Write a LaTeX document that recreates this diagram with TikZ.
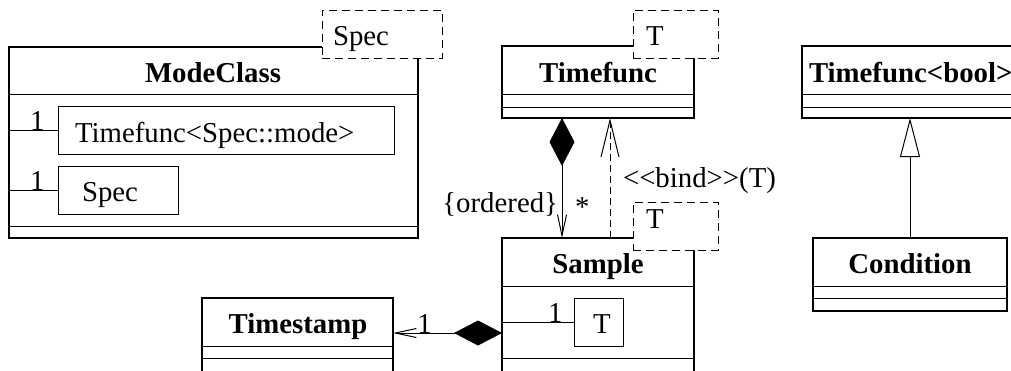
\documentclass[tikz,border=0pt]{standalone}
\usepackage{fontspec}
\setmainfont{Liberation Serif}
\usetikzlibrary{arrows.meta,fit,positioning}

% << and >> would become guillemets under the TeX mapping
\newcommand{\stereo}[1]{<\kern0pt<#1>\kern0pt>}

\begin{document}
\begin{tikzpicture}[x=0.5pt,y=-0.5pt,
  font=\fontsize{14.4}{17}\selectfont,
  every node/.append style={inner sep=0pt,outer sep=0pt},
  classbox/.style={draw,line width=1pt,fit={#1}},
  attrbox/.style={draw,line width=0.5pt,fit={#1}},
  tplbox/.style={draw,dash pattern=on 4pt off 2.5pt,line width=0.5pt,fill=white,fit={#1}},
  divider/.style={line width=0.5pt},
  classname/.style={anchor=base,font=\fontsize{14.4}{17}\selectfont\bfseries},
  mult/.style={anchor=south},
  link/.style={line width=0.5pt},
  composite/.style={link,arrows={Diamond[length=24pt,width=12.5pt]-Straight Barb[length=10.5pt,width=4.5pt]}},
  bind/.style={link,dash pattern=on 3.5pt off 2pt,arrows={-Straight Barb[length=18.5pt,width=9pt]}},
  inherit/.style={link,arrows={-Triangle[open,length=19.5pt,width=10pt]}}]
\useasboundingbox (0,0) rectangle (1011,370);
\clip (0,0) rectangle (1011,370);

% ModeClass
\node[classbox={(9,47) (418,238)}] (modeclass) {};
\draw[divider] (modeclass.west |- 0,94) -- (modeclass.east |- 0,94);
\draw[divider] (modeclass.west |- 0,226) -- (modeclass.east |- 0,226);
\node[classname] (modeclass-name) at (213,82) {ModeClass};
\node[tplbox={(322,10) (442,58)}] (modeclass-tpl) {};
\node[anchor=base west] (modeclass-par) at (333,45) {Spec};
\node[attrbox={(58,106) (394,154)}] (modeclass-mode) {};
\node[anchor=base west] (modeclass-modetxt) at (75,142) {Timefunc<Spec::mode>};
\node[attrbox={(58,166) (178,214)}] (modeclass-spec) {};
\node[anchor=base west] (modeclass-spectxt) at (82,201) {Spec};

% Timefunc
\node[classbox={(502,46) (694,118)}] (timefunc) {};
\draw[divider] (timefunc.west |- 0,94) -- (timefunc.east |- 0,94);
\draw[divider] (timefunc.west |- 0,107) -- (timefunc.east |- 0,107);
\node[classname] (timefunc-name) at (598,82) {Timefunc};
\node[tplbox={(633,10) (718,58)}] (timefunc-tpl) {};
\node[anchor=base west] (timefunc-par) at (646,45) {T};

% Timefunc<bool>
\node[classbox={(802,46) (1018,118)}] (tfbool) {};
\draw[divider] (tfbool.west |- 0,94) -- (tfbool.east |- 0,94);
\draw[divider] (tfbool.west |- 0,107) -- (tfbool.east |- 0,107);
\node[classname,anchor=base west] (tfbool-name) at (809,82) {Timefunc<bool>};

% Sample
\node[classbox={(502,238) (694,372)}] (sample) {};
\draw[divider] (sample.west |- 0,286) -- (sample.east |- 0,286);
\draw[divider] (sample.west |- 0,358) -- (sample.east |- 0,358);
\node[classname] (sample-name) at (598,273) {Sample};
\node[tplbox={(633,202) (718,250)}] (sample-tpl) {};
\node[anchor=base west] (sample-par) at (646,228) {T};
\node[attrbox={(574,298) (623,346)}] (sample-t) {};
\node[anchor=base west] (sample-ttxt) at (593,333) {T};

% Condition
\node[classbox={(813,238) (1007,311)}] (condition) {};
\draw[divider] (condition.west |- 0,286) -- (condition.east |- 0,286);
\draw[divider] (condition.west |- 0,298) -- (condition.east |- 0,298);
\node[classname] (condition-name) at (910,273) {Condition};

% Timestamp
\node[classbox={(202,298) (393,372)}] (timestamp) {};
\draw[divider] (timestamp.west |- 0,346) -- (timestamp.east |- 0,346);
\draw[divider] (timestamp.west |- 0,358) -- (timestamp.east |- 0,358);
\node[classname] (timestamp-name) at (298,333) {Timestamp};

% links
\draw[link] (modeclass.west |- modeclass-mode) -- (modeclass-mode.west) node[mult,pos=0.58] {1};
\draw[link] (modeclass.west |- modeclass-spec) -- (modeclass-spec.west) node[mult,pos=0.58] {1};
\draw[link] (sample.west |- sample-t) -- (sample-t.west) node[mult,pos=0.74] {1};
\draw[composite] (timefunc.south -| 562,0) -- (sample.north -| 562,0)
  node[pos=0.79,anchor=base east,xshift=-2pt] {\{ordered\}}
  node[pos=0.82,anchor=base west,xshift=6.5pt] {*};
\draw[bind] (sample.north -| 610,0) -- (timefunc.south -| 610,0)
  node[pos=0.417,anchor=base west,xshift=6.5pt] {\stereo{bind}(T)};
\draw[composite] (sample.west |- 0,333) -- (timestamp.east |- 0,333)
  node[mult,pos=0.71] {1};
\draw[inherit] (condition) -- (tfbool);
\end{tikzpicture}
\end{document}
